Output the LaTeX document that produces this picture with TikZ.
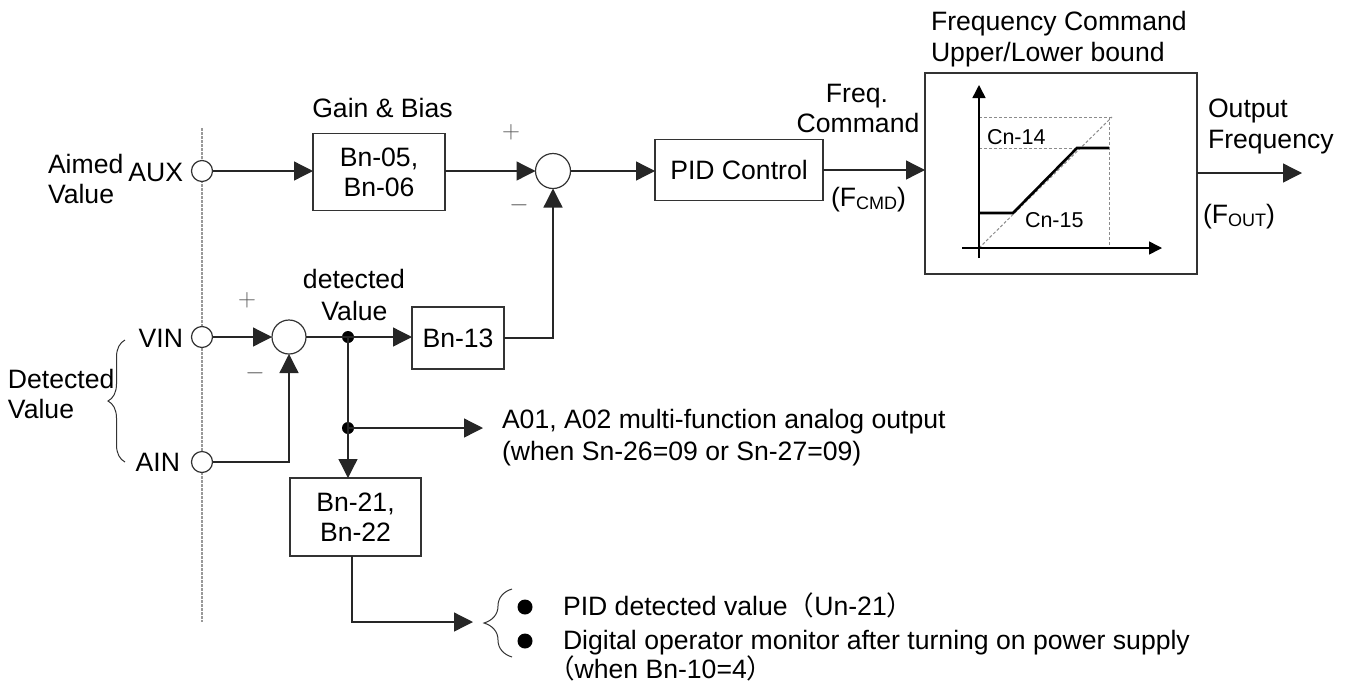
\documentclass[tikz,border=0pt]{standalone}
\usepackage{fontspec}
\setmainfont{Liberation Sans}
\newfontfamily\cjkfont{Noto Sans CJK SC}
\usetikzlibrary{arrows.meta,decorations.pathreplacing}
\begin{document}
\begin{tikzpicture}[x=1pt,y=-1pt,
  every node/.style={inner sep=0pt, outer sep=0pt},
  txt/.style={font=\fontsize{26.6}{30}\selectfont},
  smalltxt/.style={font=\fontsize{21.5}{24}\selectfont},
  blk/.style={draw=black!80, line width=1.3pt, align=center, font=\fontsize{26.6}{30}\selectfont},
  term/.style={circle, draw=black!80, line width=1.2pt, fill=white, minimum size=21pt},
  sumj/.style={circle, draw=black!80, line width=1.2pt, minimum size=35pt},
  jdot/.style={circle, fill=black, minimum size=12pt},
  bullet/.style={circle, fill=black, minimum size=15pt},
  sign/.style={text=black!65, font=\fontsize{26}{26}\selectfont},
  conn/.style={line width=1.3pt, draw=black!85},
  arr/.style={conn, -{Triangle[length=19pt,width=19pt]}},
  axarr/.style={line width=1.5pt, -{Triangle[length=13pt,width=13pt]}},
  gdash/.style={draw=black!45, line width=1pt, dash pattern=on 3pt off 2pt},
  divider/.style={draw=black!40, line width=1.2pt, dash pattern=on 2.5pt off 1.5pt},
  brc/.style={decorate, line width=1pt, draw=black!80}
]
\useasboundingbox (0,0) rectangle (1351,686);

% divider
\draw[divider] (202,128) -- (202,622);

% blocks
\node[blk, minimum width=132pt, minimum height=77pt] (b05) at (379,172) {Bn-05,\\Bn-06};
\node[blk, minimum width=168pt, minimum height=61pt] (pid) at (739,170) {PID Control};
\node[blk, minimum width=272pt, minimum height=201pt] (fbox) at (1061,173.5) {};
\node[blk, minimum width=92pt, minimum height=62pt] (b13) at (458,338) {Bn-13};
\node[blk, minimum width=131pt, minimum height=78pt] (b21) at (355.5,517) {Bn-21,\\Bn-22};

% summing junctions
\node[sumj] (s1) at (553,171) {};
\node[sumj, minimum size=34pt] (s2) at (289,337) {};

% junction dots
\node[jdot] (d1) at (348,337) {};
\node[jdot] (d2) at (348,428) {};

% terminals
\node[term] (aux) at (202,171) {};
\node[term] (vin) at (202,337) {};
\node[term] (ain) at (202,462) {};

% free ends
\coordinate (outF) at (1302,173);
\coordinate (aoE) at (483,428);
\coordinate (moE) at (473,622);

% connectors
\draw[arr] (aux.east) -- (aux.east -| b05.west);
\draw[arr] (b05.east |- s1.west) -- (s1.west);
\draw[arr] (s1.east) -- (s1.east -| pid.west);
\draw[arr] (pid.east) -- (pid.east -| fbox.west);
\draw[arr] (fbox.east |- outF) -- (outF);
\draw[arr] (vin.east) -- (s2.west);
\draw[arr] (ain.east) -| (s2.south);
\draw[conn] (s2.east) -- (d1.center);
\draw[arr] (d1.center) -- (d1.center -| b13.west);
\draw[arr] (b13.east) -| (s1.south);
\draw[conn] (d1.center) -- (d2.center);
\draw[arr] (d2.center) -- (d2.center |- b21.north);
\draw[arr] (d2.center) -- (aoE);
\draw[arr] ([xshift=-3.5pt]b21.south) |- (moE);

% signs
\node[sign] (p1) at (511,132) {$+$};
\node[sign] (m1) at (519,205) {$-$};
\node[sign] (p2) at (247,300) {$+$};
\node[sign] (m2) at (255,373) {$-$};

% labels left
\node[txt, anchor=base west] (aim1) at (48,173) {Aimed};
\node[txt, anchor=base west] (aim2) at (48,203) {Value};
\node[txt, anchor=east] (auxl) at (183,172) {AUX};
\node[txt, anchor=east] (vinl) at (183,338) {VIN};
\node[txt, anchor=east] (ainl) at (180,462) {AIN};
\node[txt, anchor=base west] (det1) at (8,388) {Detected};
\node[txt, anchor=base west] (det2) at (8,418) {Value};
\draw[brc, decoration={brace, amplitude=17pt}] (125,462) -- (125,340);

% labels middle
\node[txt, anchor=base] (gb) at (382.5,117) {Gain \& Bias};
\node[txt, anchor=base] (dv1) at (354,288) {detected};
\node[txt, anchor=base] (dv2) at (354.5,320) {Value};
\node[txt, anchor=base] (fq1) at (857,102) {Freq.};
\node[txt, anchor=base] (fq2) at (858,132) {Command};
\node[txt, anchor=base west] (fcmd) at (831,206) {(F\raisebox{-0.12em}{\fontsize{18}{18}\selectfont CMD})};

% freq box title and output
\node[txt, anchor=base west] (ft1) at (931,30) {Frequency Command};
\node[txt, anchor=base west] (ft2) at (931,61) {Upper/Lower bound};
\node[txt, anchor=base west] (of1) at (1208,117) {Output};
\node[txt, anchor=base west] (of2) at (1208,148) {Frequency};
\node[txt, anchor=base west] (fout) at (1203,223) {(F\raisebox{-0.12em}{\fontsize{18}{18}\selectfont OUT})};

% inner graph
\draw[gdash] (979,117) -- (1112,117);
\draw[gdash] (979,148) -- (1109,148);
\draw[gdash] (1109,117) -- (1109,248);
\draw[gdash] (979,248) -- (1112,117);
\draw[axarr] (979,258) -- (979,85);
\draw[axarr] (962,248) -- (1162,248);
\draw[line width=2.6pt] (979,213) -- (1013,213) -- (1077,148) -- (1109,148);
\node[smalltxt, anchor=base west] (c14) at (987,144) {Cn-14};
\node[smalltxt, anchor=base west] (c15) at (1025,227) {Cn-15};

% analog output text
\node[txt, anchor=base west] (ao1) at (502,428) {A01, A02 multi-function analog output};
\node[txt, anchor=base west] (ao2) at (502,460) {(when Sn-26=09 or Sn-27=09)};

% monitor outputs
\draw[brc, decoration={brace, amplitude=28pt}] (512,657) -- (512,589);
\node[bullet] (bl1) at (525,607) {};
\node[bullet] (bl2) at (525,641) {};
\node[txt, anchor=base west] (mo1) at (563,615) {PID detected value{\cjkfont （}Un-21{\cjkfont ）}};
\node[txt, anchor=base west] (mo2) at (563,649) {Digital operator monitor after turning on power supply};
\node[txt, anchor=base west] (mo3) at (548,678) {{\cjkfont （}when Bn-10=4{\cjkfont ）}};
\end{tikzpicture}
\end{document}
